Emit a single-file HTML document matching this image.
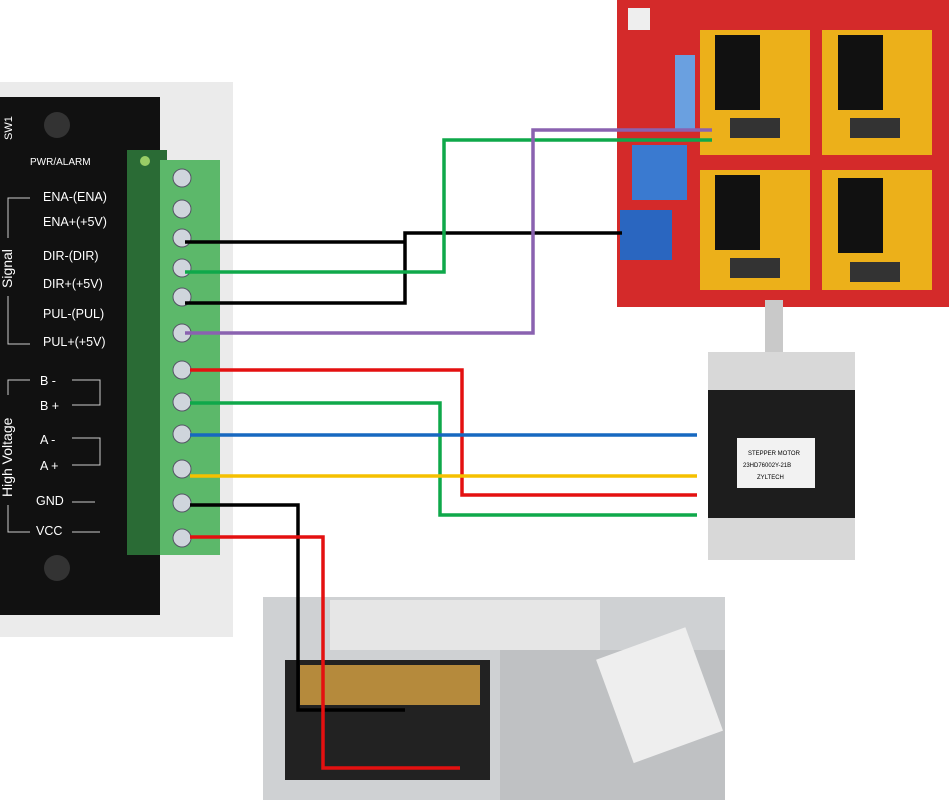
<!DOCTYPE html>
<html><head><meta charset="utf-8"><style>
html,body{margin:0;padding:0;background:#fff;width:949px;height:800px;overflow:hidden}
svg{display:block}
text{font-family:"Liberation Sans",sans-serif}
</style></head><body>
<svg width="949" height="800" viewBox="0 0 949 800">
<rect x="0" y="82" width="233" height="555" fill="#ebebeb"/>
<rect x="0" y="97" width="160" height="518" fill="#111"/>
<rect x="127" y="150" width="40" height="405" fill="#2a6b35"/>
<rect x="160" y="160" width="60" height="395" fill="#5cb86a"/>
<g fill="#cfd5dc" stroke="#556" stroke-width="1">
<circle cx="182" cy="178" r="9"/><circle cx="182" cy="209" r="9"/><circle cx="182" cy="238" r="9"/>
<circle cx="182" cy="268" r="9"/><circle cx="182" cy="297" r="9"/><circle cx="182" cy="333" r="9"/>
<circle cx="182" cy="370" r="9"/><circle cx="182" cy="402" r="9"/><circle cx="182" cy="434" r="9"/>
<circle cx="182" cy="469" r="9"/><circle cx="182" cy="503" r="9"/><circle cx="182" cy="538" r="9"/>
</g>
<circle cx="57" cy="125" r="13" fill="#333"/>
<circle cx="57" cy="568" r="13" fill="#333"/>
<circle cx="145" cy="161" r="5" fill="#9c6"/>
<g fill="#fff" font-size="12.5">
<text x="30" y="165" font-size="10">PWR/ALARM</text>
<text x="43" y="201">ENA-(ENA)</text>
<text x="43" y="226">ENA+(+5V)</text>
<text x="43" y="260">DIR-(DIR)</text>
<text x="43" y="288">DIR+(+5V)</text>
<text x="43" y="318">PUL-(PUL)</text>
<text x="43" y="346">PUL+(+5V)</text>
<text x="40" y="385">B -</text><text x="40" y="410">B +</text>
<text x="40" y="444">A -</text><text x="40" y="470">A +</text>
<text x="36" y="505">GND</text><text x="36" y="535">VCC</text>
<text transform="translate(12,288) rotate(-90)" font-size="14">Signal</text>
<text transform="translate(12,497) rotate(-90)" font-size="14">High Voltage</text>
<text transform="translate(12,140) rotate(-90)" font-size="11">SW1</text>
</g>
<g stroke="#ccc" fill="none" stroke-width="1">
<path d="M72 380H100V405H72M72 438H100V465H72M72 502H95M72 532H100"/>
<path d="M30 198H8V238M8 296V344H30M30 380H8V395M8 505V532H30"/>
</g>
<rect x="617" y="0" width="332" height="307" fill="#d42a2a"/>
<rect x="700" y="30" width="110" height="125" fill="#f0c818" opacity=".85"/>
<rect x="822" y="30" width="110" height="125" fill="#f0c818" opacity=".85"/>
<rect x="700" y="170" width="110" height="120" fill="#f0c818" opacity=".85"/>
<rect x="822" y="170" width="110" height="120" fill="#f0c818" opacity=".85"/>
<rect x="715" y="35" width="45" height="75" fill="#111"/><rect x="838" y="35" width="45" height="75" fill="#111"/>
<rect x="715" y="175" width="45" height="75" fill="#111"/><rect x="838" y="178" width="45" height="75" fill="#111"/>
<rect x="730" y="118" width="50" height="20" fill="#333"/><rect x="850" y="118" width="50" height="20" fill="#333"/>
<rect x="730" y="258" width="50" height="20" fill="#333"/><rect x="850" y="262" width="50" height="20" fill="#333"/>
<rect x="675" y="55" width="20" height="75" fill="#6aa0e0"/>
<rect x="632" y="145" width="55" height="55" fill="#3a7ad0"/>
<rect x="620" y="210" width="52" height="50" fill="#2a66c0"/>
<rect x="628" y="8" width="22" height="22" fill="#eee"/>
<rect x="765" y="300" width="18" height="55" fill="#c9c9c9"/>
<rect x="708" y="352" width="147" height="40" fill="#d8d8d8"/>
<rect x="708" y="390" width="147" height="130" fill="#1d1d1d"/>
<rect x="708" y="518" width="147" height="42" fill="#d8d8d8"/>
<rect x="737" y="438" width="78" height="50" fill="#f2f2f2"/>
<text x="748" y="455" font-size="6">STEPPER MOTOR</text>
<text x="743" y="467" font-size="6">23HD76002Y-21B</text>
<text x="757" y="479" font-size="6">ZYLTECH</text>
<rect x="263" y="597" width="462" height="203" fill="#cfd1d3"/>
<rect x="330" y="600" width="270" height="50" fill="#e6e6e6"/>
<rect x="500" y="650" width="225" height="150" fill="#bfc1c3"/>
<rect x="285" y="660" width="205" height="120" fill="#222"/>
<rect x="300" y="665" width="180" height="40" fill="#b58a3c"/>
<rect x="612" y="640" width="95" height="110" fill="#eeeeee" transform="rotate(-20 660 695)"/>
<g fill="none" stroke-width="3.5">
<path d="M185 242H405M185 303H405V233H622" stroke="#000"/>
<path d="M185 272H444V140H712" stroke="#0fa84a"/>
<path d="M185 333H533V130H712" stroke="#8a62b0"/>
<path d="M190 370H462V495H697" stroke="#e41010"/>
<path d="M190 403H440V515H697" stroke="#0fa84a"/>
<path d="M190 435H697" stroke="#1768c0"/>
<path d="M190 476H697" stroke="#f5c000"/>
<path d="M190 505H298V710H405" stroke="#000"/>
<path d="M190 537H323V768H460" stroke="#e41010"/>
</g>
</svg>
</body></html>
